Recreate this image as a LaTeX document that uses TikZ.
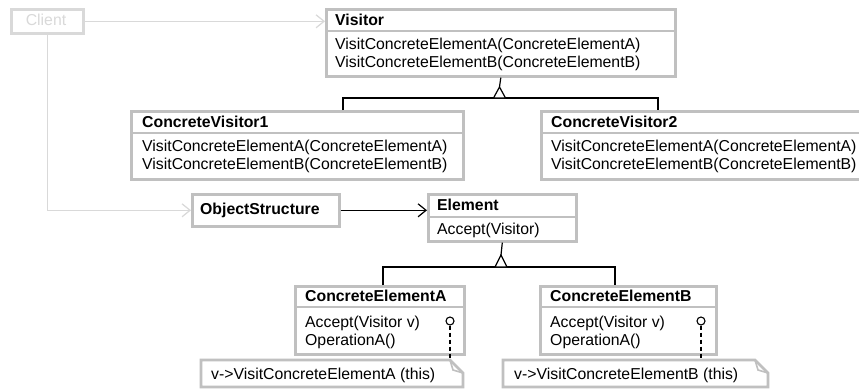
\documentclass[tikz,border=0pt]{standalone}
\usepackage{fontspec}
\setmainfont{Liberation Sans}
\usetikzlibrary{arrows.meta}
\definecolor{boxgray}{HTML}{C0C0C0}
\definecolor{ghost}{HTML}{D9D9D9}
\begin{document}
\begin{tikzpicture}[x=1pt,y=-1pt,
  every node/.style={inner sep=0pt},
  lbl/.style={anchor=base west, font=\fontsize{15.8}{19}\selectfont},
  ttl/.style={anchor=base west, font=\fontsize{15.8}{19}\selectfont\bfseries},
  cls/.style={draw=boxgray, line width=2.6pt, fill=white, anchor=north west},
  sep/.style={draw=boxgray, line width=2.6pt},
  link/.style={draw=black, line width=1.2pt},
  ghostlink/.style={draw=ghost, line width=1.2pt},
  opentip/.style={-{Straight Barb[length=8pt,width=13pt]}},
  isa/.style={draw=black, line width=1.2pt, fill=white, line join=miter},
  notebox/.style={draw=boxgray, line width=2.6pt, fill=white, line join=miter},
  fold/.style={draw=boxgray, line width=1.6pt},
  lolly/.style={circle, draw=black, line width=1.1pt, minimum size=8pt, fill=white},
  refline/.style={draw=black, line width=1.1pt, dash pattern=on 4pt off 3pt},
]
\clip (0,0) rectangle (859,389);
\fill[white] (0,0) rectangle (859,389);

% ---- Client (greyed out)
\node[cls, draw=ghost, minimum width=72pt, minimum height=24pt] (client) at (10,8) {};
\node[anchor=base, font=\fontsize{15.8}{19}\selectfont, text=ghost] (clientT) at (46,25.5) {Client};

% ---- Visitor
\node[cls, minimum width=349pt, minimum height=67pt] (visitor) at (325,8) {};
\draw[sep] (325,31) -- (674,31);
\node[ttl] (visitorT) at (335,25) {Visitor};
\node[lbl] (visitorM1) at (335,49.5) {VisitConcreteElementA(ConcreteElementA)};
\node[lbl] (visitorM2) at (335,67.5) {VisitConcreteElementB(ConcreteElementB)};

% ---- ConcreteVisitor1
\node[cls, minimum width=332pt, minimum height=68pt] (cv1) at (130,110) {};
\draw[sep] (130,133) -- (462,133);
\node[ttl] (cv1T) at (142,127) {ConcreteVisitor1};
\node[lbl] (cv1M1) at (142,151.5) {VisitConcreteElementA(ConcreteElementA)};
\node[lbl] (cv1M2) at (142,169.5) {VisitConcreteElementB(ConcreteElementB)};

% ---- ConcreteVisitor2
\node[cls, minimum width=360pt, minimum height=68pt] (cv2) at (540,110) {};
\draw[sep] (540,133) -- (900,133);
\node[ttl] (cv2T) at (551,127) {ConcreteVisitor2};
\node[lbl] (cv2M1) at (551,151.5) {VisitConcreteElementA(ConcreteElementA)};
\node[lbl] (cv2M2) at (551,169.5) {VisitConcreteElementB(ConcreteElementB)};

% ---- ObjectStructure
\node[cls, minimum width=147pt, minimum height=32pt] (objs) at (191,193) {};
\node[ttl] (objsT) at (200,214.5) {ObjectStructure};

% ---- Element
\node[cls, minimum width=148pt, minimum height=47pt] (element) at (427,193) {};
\draw[sep] (427,217) -- (575,217);
\node[ttl] (elementT) at (437,210.5) {Element};
\node[lbl] (elementM1) at (437,234) {Accept(Visitor)};

% ---- ConcreteElementA
\node[cls, minimum width=169pt, minimum height=68pt] (cea) at (294,285) {};
\draw[sep] (294,307) -- (463,307);
\node[ttl] (ceaT) at (305,301.5) {ConcreteElementA};
\node[lbl] (ceaM1) at (305,327.5) {Accept(Visitor v)};
\node[lbl] (ceaM2) at (305,345.5) {OperationA()};

% ---- ConcreteElementB
\node[cls, minimum width=176pt, minimum height=68pt] (ceb) at (539,285) {};
\draw[sep] (539,307) -- (715,307);
\node[ttl] (cebT) at (550,301.5) {ConcreteElementB};
\node[lbl] (cebM1) at (550,327.5) {Accept(Visitor v)};
\node[lbl] (cebM2) at (550,345.5) {OperationA()};

% ---- Notes with folded corners
\draw[notebox] (201,360) -- (450,360) -- (463,373) -- (463,387) -- (201,387) -- cycle;
\draw[fold] (450,360) -- (453,370) -- (463,373);
\node[lbl] (noteA) at (211,379) {v->VisitConcreteElementA (this)};
\coordinate (noteAtop) at (450,360);

\draw[notebox] (503,360) -- (755,360) -- (768,373) -- (768,387) -- (503,387) -- cycle;
\draw[fold] (755,360) -- (758,370) -- (768,373);
\node[lbl] (noteB) at (514,379) {v->VisitConcreteElementB (this)};
\coordinate (noteBtop) at (701,360);

% ---- Client associations
\draw[ghostlink, opentip] (client.east) -- (client.east -| visitor.west);
\draw[ghostlink, opentip] (client.south) |- (objs.west);

% ---- ObjectStructure -> Element
\draw[link, opentip] (objs.east) -- (objs.east -| element.west);

% ---- Visitor generalisation
\coordinate (vApex) at (499.5,87);
\coordinate (cv1In) at (343,110);
\coordinate (cv2In) at (658,110);
\draw[link] (visitor.south) -- (vApex);
\draw[link] (cv1In) -- (343,98) -- (658,98) -- (cv2In);
\draw[isa] (vApex) -- (493.5,98) -- (505.5,98) -- cycle;

% ---- Element generalisation
\coordinate (eApex) at (501,255);
\coordinate (ceaIn) at (383,285);
\coordinate (cebIn) at (615,285);
\draw[link] (element.south) -- (eApex);
\draw[link] (ceaIn) -- (383,267) -- (615,267) -- (cebIn);
\draw[isa] (eApex) -- (495,267) -- (507,267) -- cycle;

% ---- Implementation notes
\node[lolly] (lolA) at (450,321) {};
\draw[refline] (lolA.south) -- (noteAtop);
\node[lolly] (lolB) at (701,321) {};
\draw[refline] (lolB.south) -- (noteBtop);
\end{tikzpicture}
\end{document}
